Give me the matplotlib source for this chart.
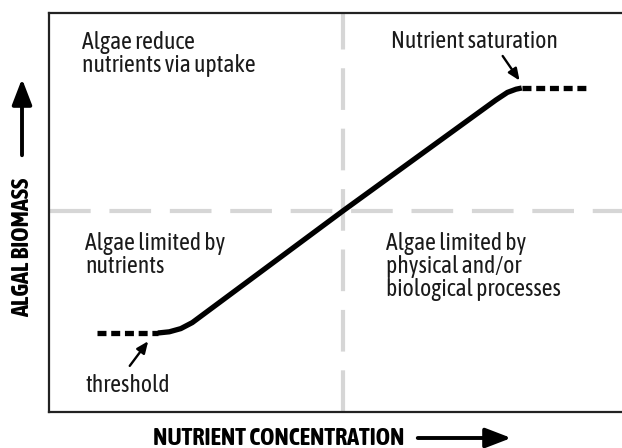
import matplotlib
matplotlib.use("Agg")
import matplotlib.pyplot as plt
from matplotlib import font_manager

W, H = 622, 448

# schematic units: nutrient 0-100 across the box, biomass 0-100 up the box
threshold_x = [8.4, 19.0]
threshold_y = [19.8, 19.8]
response_x = [19.0, 21.0, 23.0, 25.0, 51.3, 78.0, 80.0, 81.5, 82.5]
response_y = [19.8, 20.1, 20.9, 22.4, 50.4, 78.2, 80.1, 80.9, 81.2]
saturation_x = [82.5, 93.7]
saturation_y = [81.2, 81.2]
split_x = 51.3
split_y = 50.4

# want a condensed grotesque with a regular and a bold cut
fonts = font_manager.fontManager.ttflist


def _w(f):
    return f.weight if isinstance(f.weight, int) else font_manager.weight_dict.get(f.weight, 400)


by_family = {}
for f in fonts:
    if "Condensed" in f.name or "Narrow" in f.name:
        by_family.setdefault(f.name, []).append(_w(f))
ranked = sorted(by_family,
                key=lambda n: (not (400 in by_family[n] and max(by_family[n]) >= 700),
                               min(abs(w - 400) for w in by_family[n]), len(n)))
family = ranked[0] if ranked else "DejaVu Sans"
plt.rcParams["font.family"] = [family, "DejaVu Sans"]
plt.rcParams["font.stretch"] = "condensed"

fig = plt.figure(figsize=(W / 100, H / 100), dpi=100, facecolor="white")
# box: left 49px, top 13px, bottom 412px, right edge runs off the image
ax = fig.add_axes([49 / W, (H - 412) / H, (W - 49) / W, (412 - 13) / H])
ax.set_xlim(0, 100)
ax.set_ylim(0, 100)
ax.set_xticks([])
ax.set_yticks([])
ax.spines["right"].set_visible(False)
for s in ("left", "top", "bottom"):
    ax.spines[s].set_linewidth(1.6)
    ax.spines[s].set_color("#222222")

grey = "#d6d6d6"
ax.axvline(split_x, color=grey, lw=3, dashes=(10, 4.5), dash_capstyle="butt")
ax.axhline(split_y, color=grey, lw=3, dashes=(10, 4.5), dash_capstyle="butt")

ax.plot(response_x, response_y, color="black", lw=3.8,
        solid_capstyle="butt", solid_joinstyle="round")
for xs, ys in ((threshold_x, threshold_y), (saturation_x, saturation_y)):
    ax.plot(xs, ys, color="black", lw=3.8, dashes=(1.7, 0.9),
            dash_capstyle="butt")

fs = 17
txt = dict(color="#1a1a1a", fontsize=fs, linespacing=1.0, va="top", ha="left",
           fontweight="normal")
ax.text(5.7, 95.5, "Algae reduce\nnutrients via uptake", **txt)
ax.text(59.7, 95.7, "Nutrient saturation", **txt)
ax.text(6.3, 45.0, "Algae limited by\nnutrients", **txt)
ax.text(58.8, 45.0, "Algae limited by\nphysical and/or\nbiological processes", **txt)
ax.text(6.3, 9.5, "threshold", **txt)

arrow = dict(arrowstyle="-|>,head_length=0.7,head_width=0.3", color="black", lw=1.7)
ax.annotate("", xy=(82.4, 82.5), xytext=(78.9, 89.8), arrowprops=arrow)
ax.annotate("", xy=(17.6, 18.3), xytext=(13.8, 11.0), arrowprops=arrow)

# axis labels with their own arrows, placed in figure pixels
lab = dict(fontsize=17.5, fontweight="bold", color="black", va="center")
fig.text(153 / W, 1 - 438 / H, "NUTRIENT CONCENTRATION", ha="left", **lab)
fig.text(23 / W, 1 - 247 / H, "ALGAL BIOMASS", ha="center", rotation=90, **lab)
big = dict(arrowstyle="-|>,head_length=1.3,head_width=0.5", color="black", lw=2.8)
fig.add_artist(matplotlib.patches.FancyArrowPatch(
    (415 / W, 1 - 438 / H), (514 / W, 1 - 438 / H), transform=fig.transFigure,
    **big, mutation_scale=12))
fig.add_artist(matplotlib.patches.FancyArrowPatch(
    (22 / W, 1 - 158 / H), (22 / W, 1 - 76 / H), transform=fig.transFigure,
    **big, mutation_scale=12))

fig.savefig("out.png", dpi=100, facecolor="white")
